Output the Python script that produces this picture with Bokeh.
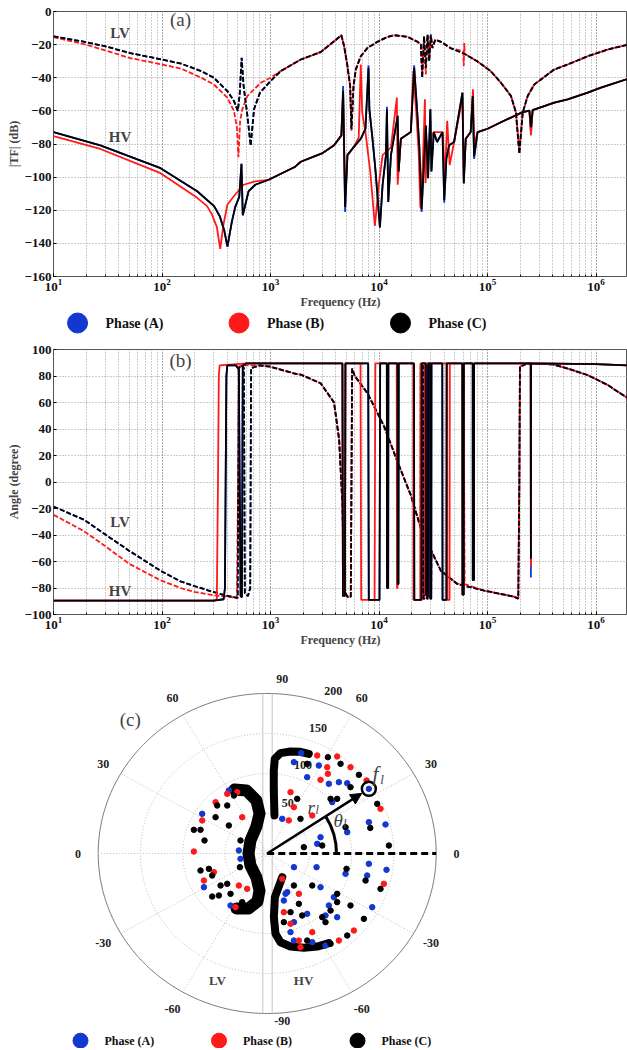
import numpy as np
from bokeh.plotting import figure
from bokeh.layouts import column
from bokeh.models import Range1d, FixedTicker, LogTicker, Label, Arrow, NormalHead
from bokeh.core.properties import value
from bokeh.embed import file_html
from bokeh.resources import INLINE

SERIF = "Liberation Serif"
BLUE = "#1238d0"
RED = "#ff1a1a"
BLACK = "#000000"

phase_labels = ["Phase (A)", "Phase (B)", "Phase (C)"]
phase_colors = [BLUE, RED, BLACK]

# ---------------- (a) magnitude |TF| (dB) ----------------
lv_c_f = [10, 20, 30, 50, 100, 150, 230, 300, 400, 460, 500, 520, 542, 565, 610, 656, 705, 800, 1000, 1240,
          1900, 2900, 3850, 4500, 4770, 5120, 5420, 5570, 5820, 6110, 6790, 7830, 9680, 11970, 13770, 18310,
          22640, 24300, 25000, 26000, 27000, 28000, 29000, 30000, 31000, 33000, 37170, 45940, 59680, 80960,
          107400, 132900, 164400, 182800, 196400, 211000, 234600, 269900, 412600, 548000, 838000, 1280000, 1960000]
lv_c_mag = [-15, -18.5, -21, -25, -29, -31.5, -36, -40, -48, -54, -60, -50, -28, -45, -62, -81, -59, -49, -42, -36,
            -29, -24.5, -18, -14.3, -21, -33, -45, -71, -45, -35, -27, -22, -18.3, -15.3, -14.3, -15.3,
            -18.3, -20, -40, -15, -34, -14, -30, -14, -22, -17, -18.3, -22.2, -25.2, -30.2,
            -36.1, -43, -51, -61, -86, -61, -51, -44, -35, -32, -27, -23, -20]
lv_a_f = lv_c_f
lv_a_mag = list(lv_c_mag)

lv_b_f = [10, 20, 30, 50, 100, 150, 230, 300, 400, 460, 490, 506, 525, 550, 612, 813, 1000, 1240, 1900, 2900,
          3850, 4500, 4770, 5120, 5420, 5570, 5820, 6110, 6790, 7830, 9680, 11970, 13770, 18310, 22640,
          24300, 25000, 26000, 27000, 28000, 29000, 30000, 31000, 33000, 37170, 45940, 59680, 60400, 61000, 61700,
          80960, 107400, 132900, 164400, 182800, 196400, 211000, 234600, 269900, 412600, 548000, 838000, 1280000, 1960000]
lv_b_mag = [-15.5, -20, -23.5, -28, -32, -34.5, -40, -44, -52, -60, -70, -88, -66, -59, -51, -43, -40, -36, -29, -24.5,
            -18, -14.5, -21, -33, -45, -72, -45, -35, -27, -22, -18.3, -15.3, -14.3, -15.3, -18.3,
            -20, -37, -16, -38, -15, -28, -15, -22, -17, -18.3, -22.2, -24, -33, -19, -25.5,
            -30.2, -36.1, -43, -51, -61, -84, -61, -51, -44, -35, -32, -27, -23, -20]

hv_c_f = [10, 27, 97, 211, 302, 340, 374, 401, 440, 473, 515, 540, 555, 628, 723, 961, 1690, 1900, 2980, 3854, 4500,
          4668, 4870, 5117, 5867, 6800, 7500, 8000, 8150, 8700, 9300, 10190, 10790, 11580, 11830, 12170,
          12880, 14850, 15170, 15890, 19640, 21070, 22400, 23560, 24670, 26180, 27030, 28300, 29730, 30400, 31990,
          34290, 38470, 39900, 41800, 44260, 49200, 58760, 60420, 62980, 69960, 73050, 75190, 80960, 100200, 132900,
          208300, 243100, 251500, 260600, 412600, 548000, 838000, 1110000, 1960000]
hv_c_mag = [-72.8, -80.8, -94.6, -108.5, -117.5, -123.5, -132, -142, -127, -118, -112, -92, -123, -108.5, -104.6, -101.6,
            -93.7, -90.7, -85.7, -80.8, -74.8, -48, -118, -86.7, -81.7, -76.8, -70.8, -34, -58.9, -76.8, -96.6,
            -130.4, -104.6, -86.7, -59, -115, -86.7, -63, -96.6, -76.8, -72.8, -34, -58.9, -82.7, -119.5, -86.7,
            -68.8, -100.6, -59, -96.6, -72.8, -78.8, -72.8, -114, -88.7, -80.8, -78.8, -49, -103.6, -76.8, -72.8,
            -51, -87.5, -72.8, -70.8, -66.9, -60.9, -59.9, -69.8, -59.5, -55, -53, -49, -46, -40.7]
hv_a_f = hv_c_f
hv_a_mag = [-72.8, -80.8, -94.6, -108.5, -117.5, -123.5, -132, -142, -127, -118, -112, -92, -123, -108.5, -104.6, -101.6,
            -93.7, -90.7, -85.7, -80.8, -74.8, -45, -121, -86.7, -81.7, -76.8, -70.8, -32.5, -58.9, -76.8, -96.6,
            -130.4, -104.6, -86.7, -57.5, -115, -86.7, -63, -96.6, -76.8, -72.8, -32.5, -58.9, -82.7, -121, -86.7,
            -68.8, -100.6, -59, -96.6, -72.8, -78.8, -72.8, -115.5, -88.7, -80.8, -78.8, -49, -104, -76.8, -72.8,
            -51, -89, -72.8, -70.8, -66.9, -60.9, -59.9, -73, -59.5, -55, -53, -49, -46, -40.7]

hv_b_f = [10, 27, 97, 211, 260, 288, 320, 344, 369, 401, 473, 565, 723, 961, 1690, 1900, 2980, 3854, 4500, 4668, 4870,
          5117, 5867, 6500, 6790, 7000, 7500, 8300, 9160, 9950, 10790, 12880, 14600, 14850, 15890, 19640,
          20700, 22000, 23200, 24050, 25500, 26500, 26800, 28000, 31990, 38470, 40500, 42500, 44800, 49200, 58760,
          60420, 62980, 69960, 73500, 75190, 80960, 100200, 132900, 208300, 243100, 251500, 260600, 412600,
          548000, 838000, 1110000, 1960000]
hv_b_mag = [-75.2, -83, -97.6, -112.5, -117.5, -122.4, -130, -143.3, -128.4, -116.5, -110.5, -104.6, -102.6, -101.6, -93.7,
            -90.7, -85.7, -80.8, -74.8, -50, -112, -86.7, -81.7, -76, -32, -60.9, -72.8, -96.6, -129.4, -104.6,
            -86.7, -82, -52, -104.6, -76.8, -72.8, -36, -60, -85, -118.5, -86.7, -53, -103.6, -80, -72.8, -72.8,
            -100, -66, -92.7, -78.8, -52, -100, -76.8, -72.8, -47, -80.8, -72.8, -70.8, -66.9, -60.9, -59.9,
            -74.8, -59.5, -55, -53, -49, -46, -40.7]

# ---------------- (b) angle (degree) ----------------
lv_c_ph_f = [10, 19, 27, 50, 97, 148, 198, 297, 400, 498, 505, 512, 540, 568, 574, 580, 620, 650, 656, 662,
             800, 1000, 1640, 1900, 2900, 3850, 4290, 4600, 4770, 5120, 5490, 5574, 5650, 5980, 7830,
             11140, 14850, 19640, 24310, 24400, 25400, 25600, 26300, 26500, 27500, 27700, 28500, 28700, 29500,
             29700, 30200, 30400, 37170, 52800, 93400, 176600, 192000, 196400, 199000, 230000, 400000, 548000,
             838000, 1280000, 1960000]
lv_c_ph = [-18.5, -28.4, -37, -52, -67, -75, -78.5, -83, -86, -87.5, 0, 86, 88, 86, 0, -84, -86, -80, 0, 86,
           88, 87, 82, 81, 74.5, 60, 32, -17, -82, -86.6, -86.6, 0, 85.6, 80, 67,
           42, 15, -10, -35, 88, 88, -88, -88, 88, 88, -88, -88, 88, 88,
           -88, -88, -52, -67, -77, -82, -86.6, -88, 0, 87, 89.3, 88.8, 85.6,
           80.7, 73.2, 63.3]
lv_a_ph_f = lv_c_ph_f
lv_a_ph = list(lv_c_ph)

lv_b_ph_f = [10, 19, 27, 50, 97, 148, 198, 297, 400, 490, 503, 509, 540, 800, 1000, 1640, 1900, 2900, 3850, 4290,
             4600, 4770, 5120, 5490, 5574, 5650, 5980, 7830, 11140, 14850, 19640,
             24100, 24200, 25200, 25400, 26100, 26300, 27300, 27500, 28300, 28500, 29300, 29500, 30000, 30200,
             37170, 52800, 60000, 60500, 61500, 93400, 176600, 192000, 196400, 199000, 230000, 400000, 548000,
             838000, 1280000, 1960000]
lv_b_ph = [-24.7, -37, -45.7, -61.8, -74.2, -80, -82.9, -85.4, -86.5, -87.5, 0, 87, 88, 88, 87, 82, 81, 74.5, 60, 32,
           -17, -82, -86.6, -86.6, 0, 85.6, 80, 67, 42, 15, -10,
           -34, 88, 88, -88, -88, 88, 88, -88, -88, 88, 88, -88, -88, -52,
           -67, -77, -76, 55, -77, -82, -86.6, -88, 0, 87, 89.3, 88.8, 85.6,
           80.7, 73.2, 63.3]

hv_c_ph_f = [10, 300, 370, 380, 386, 392, 400, 480, 510, 520, 530, 545, 550, 555, 600, 4600, 4650, 4850, 4900,
             7950, 8050, 10100, 10250, 11800, 11850, 12150, 12200, 14800, 14870, 15100, 15200, 21000, 21150,
             24600, 24750, 26950, 27100, 28200, 28350, 29650, 29800, 30300, 30450, 38300, 38500, 41800, 42000,
             58600, 58800, 60300, 60500, 73000, 73100, 75100, 75200, 250000, 251000, 252000, 1000000, 1960000]
hv_c_ph = [-89.5, -89.5, -88.5, -80, 0, 80, 88, 88, 85, 0, -86, -87, 0, 88, 89.5, 89.5, -86, -86, 89.5,
           89.5, -89, -89, 89.5, 89.5, -80, -80, 89.5, 89.5, -77, -77, 89.5, 89.5, -89,
           -89, 89.5, 89.5, -85, -85, 89.5, 89.5, -88, -88, 89.5, 89.5, -89, -89, 89.5,
           89.5, -85, -85, 89.5, 89.5, -74, -74, 89.5, 89.5, -58, 89.5, 89, 88]
hv_a_ph_f = hv_c_ph_f
hv_a_ph = [-89.5, -89.5, -88.5, -80, 0, 80, 88, 88, 85, 0, -86, -87, 0, 88, 89.5, 89.5, -86, -86, 89.5,
           89.5, -89, -89, 89.5, 89.5, -80, -80, 89.5, 89.5, -77, -77, 89.5, 89.5, -89,
           -89, 89.5, 89.5, -85, -85, 89.5, 89.5, -88, -88, 89.5, 89.5, -89, -89, 89.5,
           89.5, -85, -85, 89.5, 89.5, -74, -74, 89.5, 89.5, -72, 89.5, 89, 88]
hv_b_ph_f = [10, 300, 320, 328, 334, 340, 600, 4600, 4650, 4850, 4900, 6750, 6850, 9100, 9250, 14550, 14650,
             14800, 14900, 20650, 20750, 24000, 24100, 26450, 26550, 26750, 26850, 42400, 42600, 44700, 44900,
             58600, 58800, 60300, 60500, 73400, 73500, 75100, 75200, 250000, 251000, 252000, 1000000, 1960000]
hv_b_ph = [-89.5, -89.5, -88.5, 0, 80, 88, 89.5, 89.5, -86, -86, 89.5, 89.5, -89, -89, 89.5, 89.5, -80,
           -80, 89.5, 89.5, -89, -89, 89.5, 89.5, -85, -85, 89.5, 89.5, -89, -89, 89.5,
           89.5, -85, -85, 89.5, 89.5, -70, -70, 89.5, 89.5, -64, 89.5, 89, 88]

# ---------------- (c) polar samples (real, imag) on a 0-200 radial scale ----------------
pol_a_re = [40.2, 31.6, 61.1, 47.3, 73, 84.8, 94.7, 17.8, 76.9, 120.3, 94.7, 140, 63.1, 59.2, 120.3,
            31.6, 58.4, 120.3, 141.2, 92.7, 118.3, 63.1, 78.9, 23.7, 47.3, 69, 73, 82.8, 124.3, 31.6, 27.6,
            31.6, 53.3, 19.7, 21.7, 69,
            -45.4, -76.9, -33.5, -31.6, -74.9, -43.4]
pol_a_im = [125.4, 114.2, 110, 95.4, 87.1, 89.2, 87.9, 43.3, 64.2, 39.2, 26.7, 36.3, 20.4, 12.1, 80.8,
            -17.1, -17.1, -12.9, -20.4, -25.4, -27.5, -42.1, -54.6, -48.3, -75.4, -77.5, -65, -79.6, -67.1, -85.8,
            -98.3, -108.8, -110.8, -58.8, -50.4, -115,
            78.8, 49.6, 3.8, -6.7, -42.1, -65]
pol_b_re = [59.2, 82.8, 71, 98.6, 117.6, 71.8, 63.1, 27.6, 31.6, 25.6, 53.3, 134.1,
            138.1, 17.8, 19.7, 102.6, 84.8, 27.6, 53.3, 37.5, 39.4, 37.5,
            -47.3, -61.1, -76.9, -29.6, -86.8, -63.1, -74.9, -33.5, -37.5, -23.7, -35.5]
pol_b_im = [122.5, 121.3, 107.9, 107.9, 91.3, 99.6, 92.1, 76.7, 57.9, 41.3, 47.5, 55.8,
            -37.9, -31.7, -73.3, -96.3, -108.8, -87.9, -98.3, -108.8, -117.1, -50.4,
            74.6, 64.2, 41.3, 45.4, 2.5, -23.3, -33.8, -40, -67.1, -44.2, 76.7]
pol_c_re = [71.8, 47.3, 86.8, 108.5, 98.6, 35.5, 39.4, 75, 82.8, 130.2, 92.7, 65.1, 43.4, 144, 122,
            93.9, 116.4, 134.1, 31.6, 53.3, 82.8, 37.5, 41.4, 27.6, 65.1, 75, 69, 82.8, 98.6, 114.4, 94.7,
            19.7, 47.3, 75,
            -59.2, -47.3, -61.1, -45.4, -86.8, -78.9, -74.2, -31.6, -32.3, -78.9, -69, -65.1, -55.2, -47.3,
            -65.1, -57.2, -43.4, -29.6, -39.4]
pol_c_im = [120.4, 112.1, 112.1, 98.3, 82.9, 68.3, 43.3, 68.3, 68.3, 62.1, 32.9, 10, 7.9, 10, 32,
            -19.2, -33.8, -44.2, -40, -40, -50.4, -62.9, -77.5, -73.3, -79.6, -71.3, -85.8, -60.8, -65, -81.7, -102.5,
            -85.8, -108.8, -112.9,
            60, 60, 45.4, 35, 29.6, 29.6, 16.3, 16.3, -17.1, -21.3, -19.2, -27.5, -40, -37.9,
            -53.8, -52.5, -50.4, -60.8, 72.5]
# dense sample bands (phase C on top)
band_hv_up_re = [8.6, 7.8, 7.8, 9.0, 15.7, 27.5, 39.4, 49.2]
band_hv_up_im = [47.5, 78.8, 103.8, 118.4, 125.4, 127.5, 127.1, 124.6]
band_hv_lo_re = [17.8, 9.1, 7.9, 9.8, 15.7, 27.6, 43.4, 59.2, 72.9]
band_hv_lo_im = [-29.6, -54.6, -79.6, -100.4, -111, -116.3, -117.9, -116.3, -112.1]
band_lv_re = [-38.7, -24.5, -12.7, -9.1, -12.7, -19.8, -22.1, -19.8, -12.7, -9.1, -11.5, -22.1, -36.3]
band_lv_im = [80, 78.75, 66.25, 50, 33.75, 16.25, 0, -15, -30, -46.25, -60, -68.75, -68.75]
sample_l = [120.3, 80.8]

polar_rings = [50, 100, 150]
polar_rmax = 200
angle_ticks = [90, 60, 30, 0, -30, -60, -90, 120, 150, 180, 210, 240]
angle_tick_labels = ["90", "60", "30", "0", "-30", "-60", "-90", "60", "30", "0", "-30", "-60"]
radial_ticks = [50, 100, 150, 200]


def style_freq(p, ylabel, yticks):
    p.xaxis.ticker = LogTicker(num_minor_ticks=10)
    p.yaxis.ticker = FixedTicker(ticks=yticks)
    p.xaxis.axis_label = "Frequency (Hz)"
    p.yaxis.axis_label = ylabel
    p.outline_line_color = "#555555"
    for g in (p.xgrid, p.ygrid):
        g.grid_line_color = "#9a9a9a"
        g.grid_line_dash = "1 2"
        g.grid_line_alpha = 1.0
    p.xgrid.minor_grid_line_color = "#9a9a9a"
    p.xgrid.minor_grid_line_dash = "1 2"
    p.axis.major_label_text_font = SERIF
    p.axis.major_label_text_font_style = "bold"
    p.axis.major_label_text_font_size = "13px"
    p.axis.major_label_text_color = "#111111"
    p.axis.axis_label_text_font = SERIF
    p.axis.axis_label_text_font_style = "bold"
    p.axis.axis_label_text_font_size = "12px"
    p.axis.axis_line_color = None
    p.axis.major_tick_out = 0
    p.axis.major_tick_in = 3
    p.axis.minor_tick_out = 0
    p.axis.minor_tick_in = 2
    p.axis.major_label_standoff = 2
    p.axis.axis_label_standoff = 1


def draw_set(p, data, dash):
    for f, y, c in data:
        p.line(f, y, line_color=c, line_width=1.8, line_dash=dash)


W = 627
XR = (10, 1.95e6)

# ---------------- figure (a) ----------------
pa = figure(width=W, height=311, x_axis_type="log", x_range=Range1d(*XR), y_range=Range1d(-160, 0),
            min_border_left=53, min_border_right=0, min_border_top=11, min_border_bottom=31,
            toolbar_location=None, output_backend="svg")
style_freq(pa, "|TF| (dB)", list(range(-160, 1, 20)))
draw_set(pa, [(lv_a_f, lv_a_mag, BLUE), (lv_b_f, lv_b_mag, RED), (lv_c_f, lv_c_mag, BLACK)], "5 2")
draw_set(pa, [(hv_a_f, hv_a_mag, BLUE), (hv_b_f, hv_b_mag, RED), (hv_c_f, hv_c_mag, BLACK)], "solid")
pa.add_layout(Label(x=148, y=-5, text="(a)", text_font=SERIF, text_font_size="19px",
                    text_align="center", text_baseline="middle"))
pa.add_layout(Label(x=41, y=-13, text="LV", text_font=SERIF, text_font_size="15px", text_font_style="bold",
                    text_align="center", text_baseline="middle"))
pa.add_layout(Label(x=41, y=-76, text="HV", text_font=SERIF, text_font_size="15px", text_font_style="bold",
                    text_align="center", text_baseline="middle"))

# ---------------- legend strip (frame aligned with the plots: starts at x=53) ----------------
pl = figure(width=W, height=23, x_range=Range1d(-0.149, 3.406), y_range=Range1d(0, 1),
            min_border_left=53, min_border_right=0, min_border_top=0, min_border_bottom=0,
            x_axis_location=None, y_axis_location=None, toolbar_location=None, output_backend="svg")
pl.outline_line_color = None
pl.grid.visible = False
leg_idx = list(range(len(phase_labels)))
pl.scatter(x=leg_idx, y=[0.5] * 3, size=20, color=phase_colors)
pl.text(x=leg_idx, y=[0.5] * 3, text=phase_labels, x_offset=28, text_font=value(SERIF), text_font_size="14px",
        text_font_style="bold", text_baseline="middle", text_color="#111111")

# ---------------- figure (b) ----------------
pb = figure(width=W, height=315, x_axis_type="log", x_range=Range1d(*XR), y_range=Range1d(-100, 100),
            min_border_left=53, min_border_right=0, min_border_top=15, min_border_bottom=31,
            toolbar_location=None, output_backend="svg")
style_freq(pb, "Angle (degree)", list(range(-100, 101, 20)))
draw_set(pb, [(lv_a_ph_f, lv_a_ph, BLUE), (lv_b_ph_f, lv_b_ph, RED), (lv_c_ph_f, lv_c_ph, BLACK)], "5 2")
draw_set(pb, [(hv_a_ph_f, hv_a_ph, BLUE), (hv_b_ph_f, hv_b_ph, RED), (hv_c_ph_f, hv_c_ph, BLACK)], "solid")
pb.add_layout(Label(x=148, y=92, text="(b)", text_font=SERIF, text_font_size="19px",
                    text_align="center", text_baseline="middle"))
pb.add_layout(Label(x=41, y=-30, text="LV", text_font=SERIF, text_font_size="15px", text_font_style="bold",
                    text_align="center", text_baseline="middle"))
pb.add_layout(Label(x=41, y=-82, text="HV", text_font=SERIF, text_font_size="15px", text_font_style="bold",
                    text_align="center", text_baseline="middle"))

# ---------------- figure (c) polar (frame from x=53 to 627) ----------------
HC = 399
pc = figure(width=W, height=HC, x_range=Range1d(-252.9, 426.4), y_range=Range1d(-243.75, 255),
            min_border_left=53, min_border_right=0, min_border_top=0, min_border_bottom=0,
            x_axis_location=None, y_axis_location=None, toolbar_location=None,
            output_backend="svg")
pc.outline_line_color = None
pc.grid.visible = False

t = np.linspace(0, 2 * np.pi, 361)
for rr in polar_rings:
    pc.line(rr * np.cos(t), rr * np.sin(t), line_color="#bdbdbd", line_dash="1 2", line_width=1)
pc.line(polar_rmax * np.cos(t), polar_rmax * np.sin(t), line_color="#7a7a7a", line_width=1)
for a in [0, 30, 60, 120, 150, 180, 210, 240, 300, 330]:
    ar = np.deg2rad(a)
    pc.line([0, polar_rmax * np.cos(ar)], [0, polar_rmax * np.sin(ar)], line_color="#bdbdbd",
            line_dash="1 2", line_width=1)
for xo in (-5.2, 5.9):
    pc.line([xo, xo], [-polar_rmax, polar_rmax], line_color="#c4c4c4", line_width=1)

ang = np.deg2rad(np.array(angle_ticks, dtype=float))
lab_r = np.array([218 if a == 90 else (209 if a == -90 else 224) for a in angle_ticks])
lab_x = lab_r * np.cos(ang) + np.array([17.8 if abs(a) == 90 else 0 for a in angle_ticks])
lab_y = lab_r * np.sin(ang)
pc.text(x=lab_x, y=lab_y, text=angle_tick_labels, text_font=value(SERIF), text_font_size="12px",
        text_font_style="bold", text_align="center", text_baseline="middle", text_color="#222222")
rad_ang = np.deg2rad(69)
rad_r = np.array(radial_ticks, dtype=float) + 18
pc.text(x=rad_r * np.cos(rad_ang), y=rad_r * np.sin(rad_ang), text=[str(v) for v in radial_ticks],
        text_font=value(SERIF), text_font_size="12px", text_font_style="bold", text_align="center",
        text_baseline="middle", text_color="#222222")

# dense bands
for bx, by, w in ((band_lv_re, band_lv_im, 12), (band_hv_up_re, band_hv_up_im, 8), (band_hv_lo_re, band_hv_lo_im, 8)):
    pc.line(bx, by, line_color=BLACK, line_width=w, line_cap="round", line_join="round")

pc.scatter(pol_a_re, pol_a_im, size=5.5, color=BLUE)
pc.scatter(pol_b_re, pol_b_im, size=5.5, color=RED)
pc.scatter(pol_c_re, pol_c_im, size=5.5, color=BLACK)

# annotation: sample f_l
pc.line([0, polar_rmax], [0, 0], line_color=BLACK, line_width=3, line_dash="7 4")
pc.add_layout(Arrow(end=NormalHead(size=11, fill_color=BLACK, line_color=BLACK),
                    x_start=0, y_start=0, x_end=sample_l[0] * 0.93, y_end=sample_l[1] * 0.93,
                    line_width=2.5, line_color=BLACK))
pc.scatter([sample_l[0]], [sample_l[1]], size=14, fill_color=None, line_color=BLACK, line_width=2.5)
pc.arc(x=0, y=0, radius=82, start_angle=0, end_angle=0.56, line_color=BLACK, line_width=3)
for tx, ty, tt, sz in ((128, 99, "f", "21px"), (136, 93, "l", "13px"), (52, 58, "r", "19px"), (59, 54, "l", "12px"),
                       (84, 41, "θ", "19px"), (92, 37, "l", "12px")):
    pc.add_layout(Label(x=tx, y=ty, text=tt, text_font=SERIF, text_font_size=sz, text_font_style="italic",
                        text_align="center", text_baseline="middle"))
pc.add_layout(Label(x=-162, y=168, text="(c)", text_font=SERIF, text_font_size="19px",
                    text_align="center", text_baseline="middle"))
pc.add_layout(Label(x=-59, y=-159, text="LV", text_font=SERIF, text_font_size="13px", text_font_style="bold",
                    text_align="center", text_baseline="middle"))
pc.add_layout(Label(x=43, y=-159, text="HV", text_font=SERIF, text_font_size="13px", text_font_style="bold",
                    text_align="center", text_baseline="middle"))

# bottom legend of (c)
pc.extra_x_ranges = {"legx": Range1d(-0.195, 3.949)}
pc.extra_y_ranges = {"legy": Range1d(-0.2, 10)}
pc.scatter(x=leg_idx, y=[0] * 3, size=15, color=phase_colors, x_range_name="legx", y_range_name="legy")
pc.text(x=leg_idx, y=[0] * 3, text=phase_labels, x_offset=24, text_font=value(SERIF), text_font_size="12px",
        text_font_style="bold", text_baseline="middle", text_color="#111111",
        x_range_name="legx", y_range_name="legy")

layout = column(pa, pl, pb, pc, spacing=0)
open("out.html", "w").write(file_html(layout, INLINE))
